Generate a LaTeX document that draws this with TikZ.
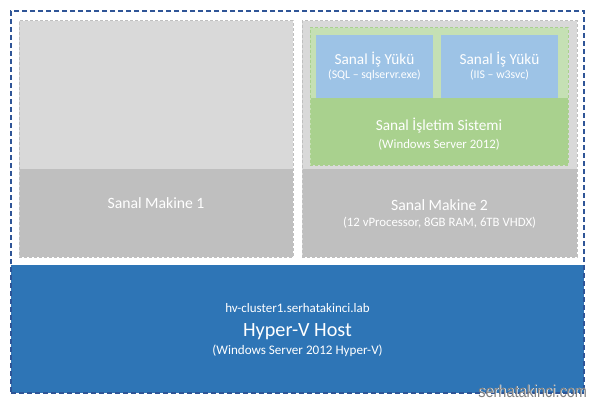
\documentclass[tikz,border=0pt]{standalone}
\usepackage{fontspec}
\setmainfont{Carlito}
\newfontfamily\wmfont{Liberation Sans}
\usetikzlibrary{positioning}
\definecolor{outerblue}{HTML}{2F5597}
\definecolor{hostblue}{HTML}{2E75B6}
\definecolor{lgray}{HTML}{D9D9D9}
\definecolor{dgray}{HTML}{BFBFBF}
\definecolor{lgreen}{HTML}{C5E0B4}
\definecolor{dgreen}{HTML}{A9D18E}
\definecolor{wlblue}{HTML}{9DC3E6}
\tikzset{
  area/.style={inner sep=0pt, outer sep=0pt, anchor=north west},
  vmbox/.style={area, fill=lgray, draw=dgray, dashed, dash pattern=on 3pt off 2pt, line width=1pt},
  vmbottom/.style={area, fill=dgray},
  osbox/.style={area, fill=lgreen, draw=dgreen, dash pattern=on 3pt off 2pt, line width=1pt},
  osbottom/.style={area, fill=dgreen},
  wlbox/.style={area, fill=wlblue},
  txt/.style={text=white, inner sep=0pt, anchor=base},
  big/.style={txt, font=\fontsize{15.7}{18}\selectfont},
  mid/.style={txt, font=\fontsize{15.3}{18}\selectfont},
  small/.style={txt, font=\fontsize{12.8}{15}\selectfont},
  smaller/.style={txt, font=\fontsize{11.8}{14}\selectfont},
}
\begin{document}
\begin{tikzpicture}[x=1pt,y=-1pt]
\useasboundingbox (0,0) rectangle (591,401);
% host
\node[area, fill=hostblue, minimum width=573pt, minimum height=128pt] (host) at (11,265) {};
\draw[white, dash pattern=on 3pt off 2pt, line width=0.8pt] (host.south west) -- (host.south east);
% outer dashed frame
\node[area, draw=outerblue, dash pattern=on 5pt off 3pt, line width=1.2pt, minimum width=573pt, minimum height=382pt] (outer) at (11,11) {};
% VM1
\node[vmbox, minimum width=274pt, minimum height=236pt] (vm1) at (19,21) {};
\node[vmbottom, minimum width=273pt, minimum height=87.5pt] (vm1b) at (19.5,169) {};
% VM2
\node[vmbox, minimum width=275pt, minimum height=236pt] (vm2) at (302,21) {};
\node[vmbottom, minimum width=274pt, minimum height=87.5pt] (vm2b) at (302.5,169) {};
% OS
\node[osbox, minimum width=258pt, minimum height=137pt] (os) at (310,28) {};
\node[osbottom, minimum width=257pt, minimum height=66.5pt] (osb) at (310.5,98) {};
% workloads
\node[wlbox, minimum width=117pt, minimum height=63pt] (wl1) at (316,35) {};
\node[wlbox, minimum width=117pt, minimum height=63pt] (wl2) at (441,35) {};
% texts
\node[mid] (wl1t) at (374.5,65) {Sanal İş Yükü};
\node[smaller] (wl1s) at (374.5,79) {(SQL – sqlservr.exe)};
\node[mid] (wl2t) at (499.5,65) {Sanal İş Yükü};
\node[smaller] (wl2s) at (499.5,79) {(IIS – w3svc)};
\node[mid] (ost) at (439,131) {Sanal İşletim Sistemi};
\node[small] (oss) at (439,148) {(Windows Server 2012)};
\node[big] (vm1t) at (156,208) {Sanal Makine 1};
\node[big] (vm2t) at (439.5,210) {Sanal Makine 2};
\node[small] (vm2s) at (439.5,226) {(12 vProcessor, 8GB RAM, 6TB VHDX)};
\node[txt, font=\fontsize{13}{15}\selectfont] (hn) at (297.5,312.5) {hv-cluster1.serhatakinci.lab};
\node[txt, font=\fontsize{20.2}{24}\selectfont] (ht) at (297.5,336.5) {Hyper-V Host};
\node[txt, font=\fontsize{13.1}{15}\selectfont] (hs) at (297.5,354.5) {(Windows Server 2012 Hyper-V)};
% watermark
\node[inner sep=0pt, anchor=base east, text=white, font=\wmfont\fontsize{17}{19}\selectfont, xscale=0.85] (wms) at (587.7,397.7) {serhatakinci.com};
\node[inner sep=0pt, anchor=base east, text=gray, font=\wmfont\fontsize{17}{19}\selectfont, xscale=0.85] (wm) at (587,397) {serhatakinci.com};
\end{tikzpicture}
\end{document}
